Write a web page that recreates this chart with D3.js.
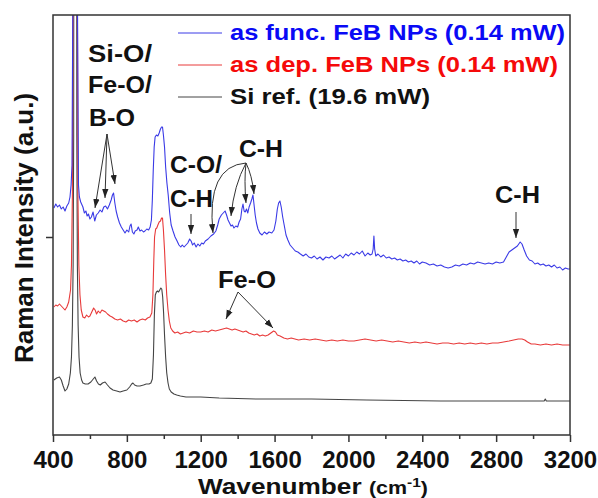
<!DOCTYPE html>
<html><head><meta charset="utf-8">
<script src="https://cdn.jsdelivr.net/npm/d3@7"></script>
<style>
html,body{margin:0;padding:0;background:#fff;}
text{font-family:"Liberation Sans",Arial,sans-serif;font-weight:bold;}
</style></head>
<body>
<svg id="chart" width="598" height="498"></svg>
<script>
// ---------------- DATA ----------------
const xTickValues = [400, 800, 1200, 1600, 2000, 2400, 2800, 3200];
const xMinorTicks = [600, 1000, 1400, 1800, 2200, 2600, 3000];
const yTickValues = [198];

const seriesNames = ["as func. FeB NPs (0.14 mW)", "as dep. FeB NPs (0.14 mW)", "Si ref. (19.6 mW)"];
const seriesColors = ["#3a3ae6", "#e83a3a", "#444444"];
const legendTextColors = ["#0a0af5", "#f50a0a", "#111111"];

const blueWn = [405,415,425,435,445,455,465,475,485,492,498,503,507,511,529,533,538,543,550,562,570,578,585,592,600,608,617,626,635,645,655,665,675,685,695,705,715,722,728,735,742,750,760,770,780,790,800,810,817,823,830,838,845,855,862,871,880,890,898,908,918,926,933,938,943,948,953,960,968,975,982,988,993,998,1004,1010,1017,1024,1032,1040,1050,1061,1072,1082,1092,1100,1110,1120,1130,1140,1148,1156,1165,1175,1185,1195,1205,1215,1225,1240,1255,1270,1282,1292,1300,1312,1322,1332,1340,1348,1356,1364,1372,1380,1390,1400,1408,1416,1423,1429,1435,1441,1448,1455,1462,1470,1477,1483,1489,1495,1502,1510,1520,1532,1545,1558,1570,1585,1597,1607,1615,1622,1629,1636,1644,1652,1662,1672,1684,1698,1712,1726,1740,1755,1770,1785,1800,1815,1830,1846,1862,1878,1895,1910,1925,1940,1955,1970,1985,2000,2015,2030,2045,2060,2075,2090,2105,2118,2128,2134,2138,2142,2148,2160,2175,2190,2205,2220,2235,2250,2265,2280,2295,2310,2325,2340,2355,2370,2385,2400,2420,2440,2460,2480,2500,2520,2540,2560,2580,2600,2620,2640,2660,2680,2700,2720,2740,2760,2780,2800,2820,2840,2855,2870,2885,2900,2915,2930,2940,2952,2965,2980,2995,3010,3025,3040,3055,3070,3085,3100,3115,3130,3145,3160,3175,3190,3200];
const blueInt = [227,231,228,230,226,228,224,229,232,238,250,270,420,1200,1200,420,250,238,233,228,222,224,219,221,216,218,223,214,220,222,225,223,228,229,226,230,235,240,242,232,224,218,212,208,205,202,205,203,209,211,203,201,204,205,208,204,205,203,204,206,205,208,215,235,265,288,298,300,299,302,306,308,308,300,288,268,252,240,222,210,204,198,194,190,188,190,188,190,192,196,194,190,192,188,191,189,192,191,194,196,199,201,204,210,216,220,222,224,220,215,212,209,210,207,209,208,213,216,226,231,224,223,226,222,228,232,236,240,230,220,212,206,202,200,203,201,203,202,205,214,226,232,234,228,218,210,200,195,190,187,184,183,181,179,181,178,177,179,176,178,175,178,177,179,176,178,180,177,181,179,182,180,183,181,184,179,182,180,181,186,199,186,179,181,178,180,177,178,176,177,175,176,174,175,173,174,172,174,171,173,172,170,171,169,170,168,167,168,170,169,171,170,172,171,173,172,171,172,171,173,172,173,178,183,185,187,189,193,191,185,179,175,174,171,172,170,171,169,170,168,170,167,168,165,167,166,166];

const redWn = [405,415,425,435,445,455,465,475,485,495,500,505,509,512,528,531,535,540,546,553,562,572,582,592,600,610,620,628,636,645,655,665,675,685,695,709,720,735,750,765,780,795,810,825,840,855,870,885,900,912,925,935,941,946,950,956,962,968,975,982,988,993,998,1004,1010,1016,1023,1030,1038,1048,1060,1075,1090,1105,1120,1140,1160,1180,1200,1220,1240,1260,1280,1300,1320,1340,1355,1370,1385,1400,1415,1430,1445,1460,1475,1490,1505,1520,1535,1550,1565,1580,1595,1605,1615,1630,1650,1670,1690,1710,1730,1760,1790,1820,1850,1880,1910,1940,1970,2000,2030,2060,2090,2120,2150,2180,2210,2240,2270,2300,2330,2360,2390,2420,2450,2480,2510,2540,2570,2600,2630,2660,2690,2720,2750,2780,2810,2840,2870,2895,2920,2940,2955,2970,2990,3010,3040,3070,3100,3130,3160,3200];
const redInt = [128,130,129,131,129,127,125,128,133,145,170,240,500,1200,1200,500,240,170,140,125,118,117,120,118,119,123,127,125,121,124,122,125,124,123,121,119,118,116,115,116,114,113,115,114,115,113,115,116,115,117,118,122,140,175,198,206,207,210,213,214,217,217,205,185,160,140,125,114,107,104,102,103,101,102,103,102,104,103,103,104,103,105,104,105,106,107,106,105,106,105,104,103,104,102,101,100,101,99,100,99,100,102,104,103,100,99,97,96,97,96,95,96,95,96,95,94,95,94,95,94,94,95,96,95,94,95,94,93,94,93,92,93,92,93,92,91,92,92,91,92,91,92,91,92,91,92,92,93,94,95,96,96,95,93,91,91,90,91,90,91,90,90];

const blackWn = [405,420,435,445,455,465,475,485,494,500,505,509,512,514,526,529,532,536,541,547,555,562,575,590,605,618,627,636,646,656,668,682,695,709,725,745,763,780,800,815,826,833,842,855,871,890,905,920,930,938,944,949,954,960,966,972,978,984,989,994,999,1004,1010,1016,1023,1030,1040,1055,1070,1090,1120,1200,1300,1500,1800,2100,2500,2800,3060,3066,3072,3200];
const blackInt = [55,57,58,55,49,44,46,51,62,78,110,170,300,1200,1200,300,170,110,78,62,55,52,51,51,53,56,58,54,51,50,52,53,50,47,45,44,43,44,45,48,51,52,50,49,49,50,51,51,52,56,80,120,140,143,144,143,145,147,146,138,122,100,78,62,52,46,43,41,40,39,38,38,37,36,36,35,34,34,34,36,34,34];

// annotations
const annoLabels = ["Si-O/", "Fe-O/", "B-O", "C-O/", "C-H", "C-H", "C-H", "Fe-O"];

// ---------------- CHART ----------------
const svg = d3.select("#chart");
const W = 598, H = 498;
const m = {left: 53, right: 28, top: 15, bottom: 63};
const x = d3.scaleLinear().domain([400, 3200]).range([m.left, W - m.right]);
const y = d3.scaleLinear().domain([0, 420]).range([H - m.bottom, m.top]);

const defs = svg.append("defs");
defs.append("clipPath").attr("id", "plotclip")
  .append("rect").attr("x", m.left).attr("y", m.top)
  .attr("width", x(3200) - x(400)).attr("height", y(0) - y(420));
defs.append("marker").attr("id", "arrow").attr("viewBox", "0 0 10 10")
  .attr("refX", 10).attr("refY", 5).attr("markerWidth", 9).attr("markerHeight", 9)
  .attr("markerUnits", "userSpaceOnUse").attr("orient", "auto")
  .append("path").attr("d", "M0,1.5 L10,5 L0,8.5 Z").attr("fill", "#222");

const line = d3.line().x(d => x(d[0])).y(d => y(d[1]));
const series = [
  {wn: blackWn, v: blackInt, c: seriesColors[2]},
  {wn: redWn, v: redInt, c: seriesColors[1]},
  {wn: blueWn, v: blueInt, c: seriesColors[0]}
];
const gLines = svg.append("g").attr("clip-path", "url(#plotclip)");
series.forEach(s => {
  gLines.append("path").datum(s.wn.map((w, i) => [w, s.v[i]]))
    .attr("d", line).attr("fill", "none").attr("stroke", s.c)
    .attr("stroke-width", 1.1).attr("stroke-linejoin", "round");
});

// axes
const xAxis = svg.append("g").attr("transform", `translate(0,${y(0)})`)
  .call(d3.axisBottom(x).tickValues(xTickValues).tickSize(7).tickFormat(d3.format("d")));
xAxis.select(".domain").remove();
xAxis.selectAll(".tick line").attr("stroke", "#333").attr("stroke-width", 1.5);
xAxis.selectAll(".tick text").attr("y", 33).attr("dy", 0)
  .attr("font-size", 24).attr("fill", "#111")
  .style("font-family", '"Liberation Sans", Arial, sans-serif').style("font-weight", "bold");
const xMinor = svg.append("g").attr("transform", `translate(0,${y(0)})`)
  .call(d3.axisBottom(x).tickValues(xMinorTicks).tickSize(4).tickFormat(""));
xMinor.select(".domain").remove();
xMinor.selectAll(".tick line").attr("stroke", "#333").attr("stroke-width", 1.5);

const yAxis = svg.append("g").attr("transform", `translate(${m.left},0)`)
  .call(d3.axisLeft(y).tickValues(yTickValues).tickSize(7).tickFormat(""));
yAxis.select(".domain").remove();
yAxis.selectAll(".tick line").attr("stroke", "#333").attr("stroke-width", 1.5);

// frame
svg.append("rect").attr("x", m.left).attr("y", m.top)
  .attr("width", x(3200) - x(400)).attr("height", y(0) - y(420))
  .attr("fill", "none").attr("stroke", "#333").attr("stroke-width", 1.5);

// axis titles
svg.append("text").attr("transform", `translate(33,${(m.top + y(0)) / 2 + 3}) rotate(-90)`)
  .attr("text-anchor", "middle").attr("font-size", 26).attr("fill", "#111")
  .text("Raman Intensity (a.u.)");
const xt = svg.append("text").attr("x", 198).attr("y", 494).attr("font-size", 22).attr("fill", "#111")
  .attr("textLength", 230).attr("lengthAdjust", "spacingAndGlyphs");
xt.append("tspan").text("Wavenumber ");
xt.append("tspan").attr("font-size", 18).text("(cm");
xt.append("tspan").attr("font-size", 13).attr("dy", -7).text("-1");
xt.append("tspan").attr("font-size", 18).attr("dy", 7).text(")");

// legend
const legY = [33, 65, 97];
const legLen = [335, 328, 200];
seriesNames.forEach((n, i) => {
  svg.append("line").attr("x1", 178).attr("x2", 222).attr("y1", legY[i]).attr("y2", legY[i])
    .attr("stroke", seriesColors[i]).attr("stroke-width", 1);
  svg.append("text").attr("x", 230).attr("y", legY[i] + 7).attr("font-size", 22)
    .attr("fill", legendTextColors[i]).attr("textLength", legLen[i])
    .attr("lengthAdjust", "spacingAndGlyphs").text(n);
});

// annotation labels
const annoPos = [[88, 62, 64], [88, 93, 64], [89, 126, 46], [170, 173, 52], [170, 207, 43], [239, 157, 44], [495, 203, 45], [218, 288, 58]];
annoLabels.forEach((t, i) => {
  svg.append("text").attr("x", annoPos[i][0]).attr("y", annoPos[i][1])
    .attr("font-size", 23).attr("fill", "#111")
    .attr("textLength", annoPos[i][2]).attr("lengthAdjust", "spacingAndGlyphs").text(t);
});

// arrows [x1,y1,cx,cy,x2,y2]
const arrows = [
  [107, 134, null, null, 95, 208],
  [107, 134, null, null, 105, 198],
  [107, 134, null, null, 115, 184],
  [191, 214, null, null, 191, 234],
  [246, 163, 206, 166, 213, 233],
  [246, 163, 234, 185, 231, 216],
  [246, 163, 244, 180, 246, 203],
  [246, 163, 252, 175, 254, 194],
  [516, 212, null, null, 516, 238],
  [238, 292, null, null, 226, 319],
  [238, 292, null, null, 273, 328]
];
arrows.forEach(a => {
  const d = a[2] === null ? `M${a[0]},${a[1]} L${a[4]},${a[5]}`
    : `M${a[0]},${a[1]} Q${a[2]},${a[3]} ${a[4]},${a[5]}`;
  svg.append("path").attr("d", d).attr("fill", "none").attr("stroke", "#333")
    .attr("stroke-width", 1).attr("marker-end", "url(#arrow)");
});
</script>
</body></html>
